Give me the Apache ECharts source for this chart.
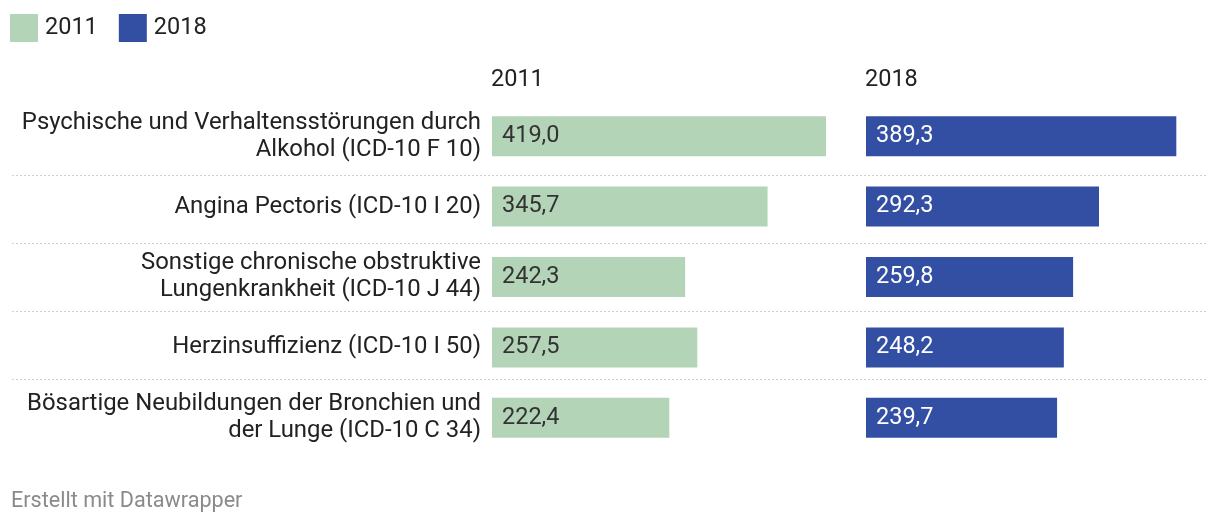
<!DOCTYPE html>
<html>
<head>
<meta charset="utf-8">
<script src="https://cdn.jsdelivr.net/npm/echarts@6/dist/echarts.min.js"></script>
<style>
html,body{margin:0;padding:0;background:#fff;}
#c{width:1220px;height:524px;}
</style>
</head>
<body>
<div id="c"></div>
<script>
const categories = [
  "Psychische und Verhaltensstörungen durch\nAlkohol (ICD-10 F 10)",
  "Angina Pectoris (ICD-10 I 20)",
  "Sonstige chronische obstruktive\nLungenkrankheit (ICD-10 J 44)",
  "Herzinsuffizienz (ICD-10 I 50)",
  "Bösartige Neubildungen der Bronchien und\nder Lunge (ICD-10 C 34)"
];
const values2011 = [419.0, 345.7, 242.3, 257.5, 222.4];
const values2018 = [389.3, 292.3, 259.8, 248.2, 239.7];
const seriesNames = ["2011", "2018"];
const separators = ["a", "b", "c", "d"];

const FONT = "Roboto";
const fmt = p => p.value.toFixed(1).replace('.', ',');
const colors = ["#b4d4b8", "#334fa3"];

const chart = echarts.init(document.getElementById('c'), null, {renderer: 'canvas'});
const gridTop = 101, gridH = 352;

chart.setOption({
  animation: false,
  textStyle: {fontFamily: FONT},
  legend: {
    left: 10, top: 14, padding: 0,
    icon: 'rect', itemWidth: 28, itemHeight: 28, itemGap: 21,
    textStyle: {fontFamily: FONT, fontSize: 23.5, color: '#222', padding: [0, 0, 0, 2]},
    data: seriesNames
  },
  title: [
    {text: seriesNames[0], left: 491, top: 68, padding: 0, textStyle: {fontFamily: FONT, fontSize: 23.5, fontWeight: 'normal', color: '#222'}},
    {text: seriesNames[1], left: 865, top: 68, padding: 0, textStyle: {fontFamily: FONT, fontSize: 23.5, fontWeight: 'normal', color: '#222'}},
    {text: "Erstellt mit Datawrapper", left: 11, top: 491, padding: 0, textStyle: {fontFamily: FONT, fontSize: 21.6, fontWeight: 'normal', color: '#8a8a8a'}}
  ],
  grid: [
    {left: 12, width: 1195, top: 175, height: 204},
    {left: 492, width: 334, top: gridTop, height: gridH},
    {left: 866, width: 334, top: gridTop, height: gridH}
  ],
  xAxis: [
    {gridIndex: 0, type: 'value', show: false, min: 0, max: 1},
    {gridIndex: 1, type: 'value', show: false, min: 0, max: 419},
    {gridIndex: 2, type: 'value', show: false, min: 0, max: 419}
  ],
  yAxis: [
    {gridIndex: 0, type: 'category', data: separators, boundaryGap: false,
     axisLine: {show: false}, axisTick: {show: false}, axisLabel: {show: false},
     splitLine: {show: true, lineStyle: {color: '#cfcfcf', type: [2, 2], width: 1}}},
    {gridIndex: 1, type: 'category', data: categories, inverse: true,
     axisLine: {show: false}, axisTick: {show: false},
     axisLabel: {margin: 11, fontFamily: FONT, fontSize: 23.9, lineHeight: 27, color: '#222', align: 'right'},
     splitLine: {show: false}},
    {gridIndex: 2, type: 'category', data: categories, inverse: true, show: false}
  ],
  series: [
    {name: seriesNames[0], type: 'bar', xAxisIndex: 1, yAxisIndex: 1, data: values2011,
     barWidth: 40, itemStyle: {color: colors[0]},
     label: {show: true, position: 'insideLeft', distance: 10, formatter: fmt,
             fontFamily: FONT, fontSize: 23.5, color: '#333'}},
    {name: seriesNames[1], type: 'bar', xAxisIndex: 2, yAxisIndex: 2, data: values2018,
     barWidth: 40, itemStyle: {color: colors[1]},
     label: {show: true, position: 'insideLeft', distance: 10, formatter: fmt,
             fontFamily: FONT, fontSize: 23.5, color: '#fff'}}
  ]
});
</script>
</body>
</html>
